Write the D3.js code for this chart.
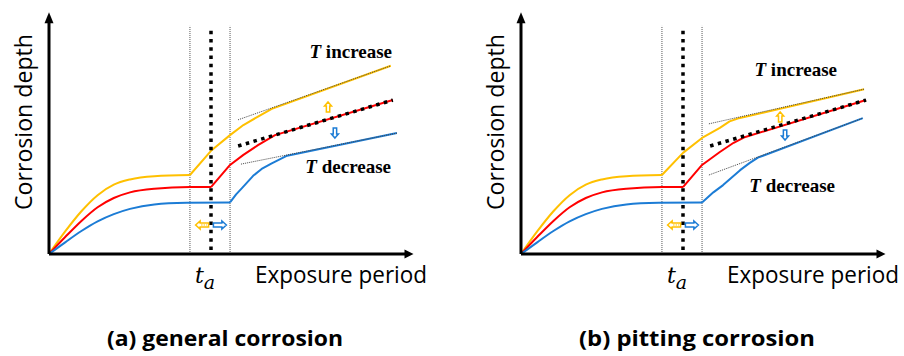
<!DOCTYPE html>
<html>
<head>
<meta charset="utf-8">
<script src="https://cdn.jsdelivr.net/npm/d3@7"></script>
<style>
  body { margin: 0; background: #fff; }
  svg text { fill: #000; }
</style>
</head>
<body>
<div id="chart"></div>
<script>
// 全体のサイズ
const width = 904;
const height = 356;

// テキスト
const panelTitles = ['(a) general corrosion', '(b) pitting corrosion'];
const xLabel = 'Exposure period';
const yLabel = 'Corrosion depth';
const incLabel = 'increase';
const decLabel = 'decrease';

// 時間の区切り (t_a と前後の範囲)
const ta = 40;
const windowStart = 34.8;
const windowEnd = 44.7;

// 初期の腐食進行 (両パネル共通)
const growYellow = [[0,0],[4,5.6],[8,10.6],[12,14.6],[16,17.2],[20,18.5],[26,19.3],[34.8,19.6]];
const growRed = [[0,0],[4,4.2],[8,8.2],[12,11.6],[16,13.9],[20,15.3],[26,16.2],[34.8,16.6],[40,16.6]];
const growBlue = [[0,0],[4,2.9],[8,5.7],[12,8.1],[16,9.9],[20,11.2],[26,12.3],[34,12.7],[44.7,12.8]];

// (a) general corrosion の後半
const lateYellowA = [[34.8,19.6],[40,25.6],[44.7,29.5],[48,32.0],[51.6,34.1],[55,36.0],[84.4,46.7]];
const lateRedA = [[40,16.6],[44.7,22.1],[48,24.6],[51.6,27],[55.8,29.5],[84.9,38.2]];
const lateBlueA = [[44.7,12.8],[46.2,14.8],[47.7,16.4],[50.4,19.4],[52.5,21.1],[55,22.5],[58.8,24.4],[85.9,30]];
const tanYellowA = [[46.7,33.3],[84.4,46.7]];
const tanRedA = [[46.7,26.8],[84.9,38.2]];
const tanBlueA = [[47.4,22.3],[85.9,30]];
const upArrowA = [68.9, 36.5];
const downArrowA = [70.6, 30.0];

// (b) pitting corrosion の後半
const lateYellowB = [[34.8,19.6],[40,25.1],[44.7,28.8],[49.1,31.3],[51.5,32.9],[53.5,33.6],[84.7,40.9]];
const lateRedB = [[40,16.6],[44.7,22.1],[49.1,25.3],[52.5,27.6],[55,28.9],[85.2,38.2]];
const lateBlueB = [[44.7,12.8],[47.5,15.3],[49.9,17.1],[54.1,20.8],[56.5,22.6],[58.5,23.9],[84.4,33.7]];
const tanYellowB = [[46.4,32.3],[84.7,40.9]];
const tanRedB = [[46.7,26.8],[85.2,38.2]];
const tanBlueB = [[46.4,19.6],[84.4,33.7]];
const upArrowB = [64.0, 34.0];
const downArrowB = [65.2, 29.5];

// 左右の矢印 (t_a の前後)
const sideArrowY = 7.2;
const leftArrowX = 37.8;
const rightArrowX = 42.2;

const colors = { yellow: '#FFC000', red: '#FF0000', blue: '#1C7CD5' };

const panels = [
  { title: panelTitles[0], late: [lateYellowA, lateRedA, lateBlueA], tan: [tanYellowA, tanRedA, tanBlueA],
    up: upArrowA, down: downArrowA, inc: [343, -196], dec: [342, -81] },
  { title: panelTitles[1], late: [lateYellowB, lateRedB, lateBlueB], tan: [tanYellowB, tanRedB, tanBlueB],
    up: upArrowB, down: downArrowB, inc: [316, -178], dec: [314, -62] }
];

// スケール
const x = d3.scaleLinear().domain([0, 90]).range([0, 364.5]);
const y = d3.scaleLinear().domain([0, 60]).range([0, -241.8]);

const svg = d3.select('#chart')
  .append('svg')
  .attr('width', width)
  .attr('height', height);

const smooth = d3.line().x(d => x(d[0])).y(d => y(d[1])).curve(d3.curveMonotoneX);
const straight = d3.line().x(d => x(d[0])).y(d => y(d[1]));

panels.forEach((p, i) => {
  const g = svg.append('g').attr('transform', `translate(${49 + i * 472},254)`);

  // 縦の点線
  [windowStart, windowEnd].forEach(v => {
    g.append('line')
      .attr('x1', x(v)).attr('x2', x(v))
      .attr('y1', y(0.5)).attr('y2', y(56.6))
      .attr('stroke', '#555').attr('stroke-width', 1)
      .attr('stroke-dasharray', '1,1');
  });

  // 曲線
  const grows = [growYellow, growRed, growBlue];
  const cols = [colors.yellow, colors.red, colors.blue];
  grows.forEach((d, k) => {
    g.append('path').attr('d', smooth(d))
      .attr('fill', 'none').attr('stroke', cols[k]).attr('stroke-width', 2);
    g.append('path').attr('d', straight(p.late[k]))
      .attr('fill', 'none').attr('stroke', cols[k]).attr('stroke-width', 2)
      .attr('stroke-linejoin', 'round');
  });

  // 接線
  g.append('path').attr('d', straight(p.tan[0]))
    .attr('fill', 'none').attr('stroke', '#444').attr('stroke-width', 1)
    .attr('stroke-dasharray', '1,1');
  g.append('path').attr('d', straight(p.tan[2]))
    .attr('fill', 'none').attr('stroke', '#444').attr('stroke-width', 1)
    .attr('stroke-dasharray', '1,1');
  g.append('path').attr('d', straight(p.tan[1]))
    .attr('fill', 'none').attr('stroke', '#000').attr('stroke-width', 3.5)
    .attr('stroke-dasharray', '3.5,4.5');

  // t_a の太い点線
  g.append('line')
    .attr('x1', x(ta)).attr('x2', x(ta))
    .attr('y1', y(1)).attr('y2', y(56.6))
    .attr('stroke', '#000').attr('stroke-width', 3.5)
    .attr('stroke-dasharray', '3.5,4.8');

  // 軸
  g.append('line').attr('x1', 0).attr('y1', 0).attr('x2', x(0)).attr('y2', y(57.5))
    .attr('stroke', '#000').attr('stroke-width', 3);
  g.append('line').attr('x1', 0).attr('y1', 0).attr('x2', x(88)).attr('y2', 0)
    .attr('stroke', '#000').attr('stroke-width', 3);
  g.append('path')
    .attr('d', `M${x(0)},${y(60)} L${x(0) + 4.5},${y(60) + 11} L${x(0) - 4.5},${y(60) + 11} Z`)
    .attr('fill', '#000');
  g.append('path')
    .attr('d', `M${x(90)},0 L${x(90) - 9},-4.5 L${x(90) - 9},4.5 Z`)
    .attr('fill', '#000');

  // 上下の矢印
  const upPath = (cx, cy, dir) => {
    // dir = -1 上向き, 1 下向き
    const h = 5 * dir;
    return `M${cx},${cy + h} L${cx + 3.5},${cy + h * 0.2} L${cx + 1.7},${cy + h * 0.2} L${cx + 1.7},${cy - h}` +
      ` L${cx - 1.7},${cy - h} L${cx - 1.7},${cy + h * 0.2} L${cx - 3.5},${cy + h * 0.2} Z`;
  };
  g.append('path').attr('d', upPath(x(p.up[0]), y(p.up[1]), -1))
    .attr('fill', '#fff').attr('stroke', colors.yellow).attr('stroke-width', 1.5);
  g.append('path').attr('d', upPath(x(p.down[0]), y(p.down[1]), 1))
    .attr('fill', '#fff').attr('stroke', colors.blue).attr('stroke-width', 1.5);

  // 左右の矢印
  const sidePath = (cx, cy, dir) => {
    const w = 6.5 * dir;
    return `M${cx + w},${cy} L${cx + w * 0.3},${cy - 4} L${cx + w * 0.3},${cy - 2} L${cx - w},${cy - 2}` +
      ` L${cx - w},${cy + 2} L${cx + w * 0.3},${cy + 2} L${cx + w * 0.3},${cy + 4} Z`;
  };
  g.append('path').attr('d', sidePath(x(leftArrowX), y(sideArrowY), -1))
    .attr('fill', '#fff').attr('stroke', colors.yellow).attr('stroke-width', 1.5);
  g.append('line')
    .attr('x1', x(leftArrowX) - 1).attr('x2', x(leftArrowX) + 5)
    .attr('y1', y(sideArrowY)).attr('y2', y(sideArrowY))
    .attr('stroke', colors.yellow).attr('stroke-width', 1).attr('stroke-dasharray', '1.5,1');
  g.append('path').attr('d', sidePath(x(rightArrowX), y(sideArrowY), 1))
    .attr('fill', '#fff').attr('stroke', colors.blue).attr('stroke-width', 1.5);

  // ラベル
  g.append('text')
    .attr('transform', 'rotate(-90)')
    .attr('x', 132).attr('y', -17)
    .attr('text-anchor', 'middle')
    .style('font-family', '"Open Sans", sans-serif')
    .style('font-size', '23px')
    .attr('textLength', 176).attr('lengthAdjust', 'spacingAndGlyphs')
    .text(yLabel);

  g.append('text')
    .attr('x', 206).attr('y', 29)
    .style('font-family', '"Open Sans", sans-serif')
    .style('font-size', '23px')
    .attr('textLength', 172).attr('lengthAdjust', 'spacingAndGlyphs')
    .text(xLabel);

  const tLabel = g.append('text')
    .attr('x', 146).attr('y', 29)
    .style('font-family', '"DejaVu Serif", serif')
    .style('font-style', 'italic');
  tLabel.append('tspan').style('font-size', '22px').text('t');
  tLabel.append('tspan').attr('dy', 6).style('font-size', '19px').text('a');

  [[p.inc, incLabel], [p.dec, decLabel]].forEach(([pos, word]) => {
    const t = g.append('text')
      .attr('x', pos[0]).attr('y', pos[1])
      .attr('text-anchor', 'end')
      .style('font-family', '"Liberation Serif", serif')
      .style('font-weight', 'bold')
      .style('font-size', '19px');
    t.append('tspan').style('font-style', 'italic').text('T');
    t.append('tspan').text(' ' + word);
  });

  g.append('text')
    .attr('x', 176).attr('y', 92)
    .attr('text-anchor', 'middle')
    .style('font-family', '"Open Sans", sans-serif')
    .style('font-weight', 'bold')
    .style('font-size', '22px')
    .attr('textLength', 236).attr('lengthAdjust', 'spacingAndGlyphs')
    .text(p.title);
});
</script>
</body>
</html>
